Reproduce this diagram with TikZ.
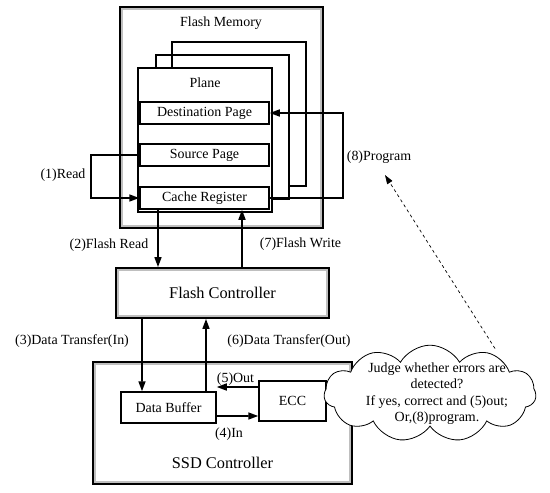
\documentclass[tikz,border=0pt]{standalone}
\usepackage{fontspec}
\setmainfont{Liberation Serif}
\usetikzlibrary{arrows.meta,shapes.symbols}
\begin{document}
\begin{tikzpicture}[x=1bp,y=-1bp,
  lbl/.style={font=\fontsize{14}{16.5}\selectfont, inner sep=0pt},
  big/.style={font=\fontsize{16.4}{19}\selectfont, inner sep=0pt},
  box/.style 2 args={draw, line width=1.5bp, fill=white, minimum width=#1bp, minimum height=#2bp, inner sep=0pt, font=\fontsize{14}{16.5}\selectfont},
  shbox/.style 2 args={box={#1}{#2}, line width=1.8bp},
  bevel/.style={draw=gray!50, line width=2bp},
  arr/.style={line width=1.6bp, -{Triangle[length=10bp,width=7bp]}},
  dasharr/.style={line width=0.7bp, dashed, -{Triangle[length=9bp,width=6bp]}},
  wire/.style={line width=1.6bp},
]
\useasboundingbox (0,0) rectangle (550,493);

% Flash memory
\node[shbox={203}{221}] (fm) at (221.5,117.5) {};
\draw[bevel] ([shift={(2.5bp,-2.5bp)}]fm.north west) rectangle ([shift={(-2.5bp,2.5bp)}]fm.south east);
\node[lbl] (fmt) at (221,23) {Flash Memory};
\draw[wire] (172,68) -- (172,42) -- (306,42) -- (306,186) -- (289,186);
\draw[wire] (156,68) -- (156,55) -- (289,55) -- (289,199) -- (272,199);
\node[box={134}{144}] (plane) at (205,140) {};
\node[lbl] (planet) at (205,83) {Plane};
\node[box={129}{22}] (dest) at (204.5,113) {Destination Page};
\node[box={129}{22}] (src) at (204.5,155) {Source Page};
\node[box={129}{22}] (cache) at (204.5,198) {Cache Register};

% controllers
\node[shbox={213}{50}, font=\fontsize{16.4}{19}\selectfont] (fc) at (222.5,293) {Flash Controller};
\draw[bevel] ([shift={(2.5bp,-2.5bp)}]fc.north west) rectangle ([shift={(-2.5bp,2.5bp)}]fc.south east);
\node[shbox={259}{122}] (ssd) at (222.5,423) {};
\draw[bevel] ([shift={(2.5bp,-2.5bp)}]ssd.north west) rectangle ([shift={(-2.5bp,2.5bp)}]ssd.south east);
\node[big] (ssdt) at (222.5,463) {SSD Controller};
\node[box={95}{31}] (db) at (168.5,407.5) {Data Buffer};
\node[box={67}{40}] (ecc) at (292.5,401) {ECC};

% cloud
\node[cloud, draw, line width=0.8bp, fill=white, cloud puffs=11, cloud puff arc=120, aspect=2.3, cloud ignores aspect, minimum width=212bp, minimum height=97pt, inner sep=0pt] (cloud) at (430,393.5) {};
\node[lbl, align=center] (cloudt) at (437,393.5) {Judge whether errors are\\detected?\\If yes, correct and (5)out;\\Or,(8)program.};
\coordinate (p8) at (385,175);

% connectors
\draw[arr] (src.west) -- ++(-48,0) |- (cache.west);
\draw[arr] (cache.east) -- ++(73,0) |- (dest.east);
\draw[arr] ([xshift=-46.5bp]cache.south) -- ([xshift=-64.5bp]fc.north);
\draw[arr] ([xshift=19.5bp]fc.north) -- ([xshift=37.5bp]cache.south);
\draw[arr] ([xshift=-80.5bp]fc.south) -- ([xshift=-26.5bp]db.north);
\draw[arr] ([xshift=37.5bp]db.north) -- ([xshift=-16.5bp]fc.south);
\draw[arr] ([yshift=14bp]ecc.west) -- ([yshift=20.5bp]db.east);
\draw[arr] ([yshift=-8.5bp]db.east) -- ([yshift=-15bp]ecc.west);
\draw[dasharr] ([shift={(65bp,45bp)}]cloud.center) -- (p8);

% labels
\node[lbl] (l1) at (63,175) {(1)Read};
\node[lbl] (l8) at (379,157) {(8)Program};
\node[lbl] (l2) at (109,245) {(2)Flash Read};
\node[lbl] (l7) at (300.5,244) {(7)Flash Write};
\node[lbl] (l3) at (72,341) {(3)Data Transfer(In)};
\node[lbl] (l6) at (289,341) {(6)Data Transfer(Out)};
\node[lbl] (l5) at (235.5,379.5) {(5)Out};
\node[lbl] (l4) at (229,434) {(4)In};
\end{tikzpicture}
\end{document}
